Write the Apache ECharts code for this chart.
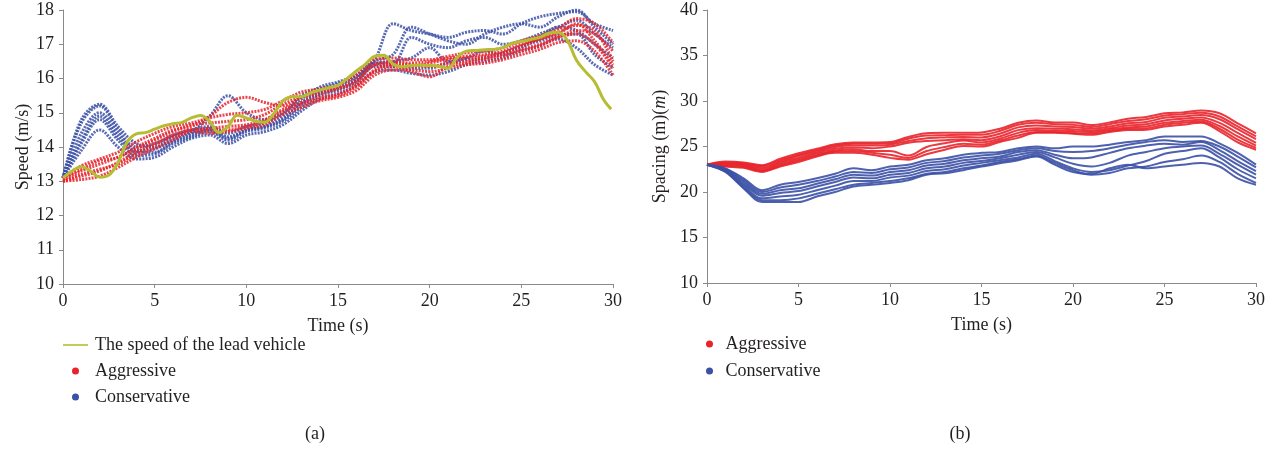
<!DOCTYPE html>
<html>
<head>
<meta charset="utf-8">
<script src="https://cdn.jsdelivr.net/npm/echarts@6/dist/echarts.min.js"></script>
<style>
html,body{margin:0;padding:0;background:#fff;}
#c{width:1280px;height:449px;}
</style>
</head>
<body>
<div id="c"></div>
<script>
// ---------- DATA ----------
const time = [0,1,2,3,4,5,6,7,8,9,10,11,12,13,14,15,16,17,18,19,20,21,22,23,24,25,26,27,28,29,30];
const xTicks = ['0','5','10','15','20','25','30'];

const leadTime = [0,0.5,1,1.5,2,2.5,3,3.5,4,4.5,5,5.5,6,6.5,7,7.5,8,8.5,9,9.5,10,10.5,11,11.5,12,12.5,13,13.5,14,14.5,15,15.5,16,16.5,17,17.5,18,18.5,19,19.5,20,20.5,21,21.5,22,22.5,23,23.5,24,24.5,25,25.5,26,26.5,27,27.5,28,28.5,29,29.5,29.9];
const leadSpeed = [13.10,13.30,13.42,13.30,13.12,13.18,13.55,14.15,14.38,14.42,14.52,14.62,14.68,14.72,14.85,14.92,14.75,14.42,14.60,14.92,14.85,14.75,14.72,14.98,15.35,15.47,15.47,15.58,15.66,15.73,15.80,16.00,16.22,16.42,16.65,16.68,16.42,16.34,16.38,16.39,16.38,16.36,16.30,16.62,16.80,16.82,16.84,16.85,16.90,17.03,17.08,17.14,17.20,17.32,17.35,17.12,16.54,16.20,15.90,15.37,15.10];

// Aggressive speed runs (m/s)
const aggSpeed1 = [13.1,13.45,13.65,13.85,14.15,14.4,14.6,14.7,14.85,14.95,15.0,15.1,15.35,15.6,15.7,15.8,16.1,16.55,16.6,16.55,16.55,16.65,16.75,16.8,16.9,17.1,17.25,17.45,17.75,17.6,17.05];
const aggSpeed2 = [13.0,13.2,13.35,13.5,13.8,14.05,14.35,14.5,14.55,14.6,14.65,14.8,15.1,15.3,15.45,15.55,15.8,16.25,16.45,16.4,16.35,16.45,16.5,16.6,16.7,16.85,17.0,17.2,17.4,17.3,16.8];
const aggSpeed3 = [13.0,13.05,13.15,13.4,13.7,13.95,14.2,14.45,14.4,14.45,14.55,14.65,14.95,15.15,15.35,15.45,15.65,16.1,16.25,16.25,16.2,16.3,16.4,16.45,16.55,16.7,16.85,17.05,17.1,16.8,16.1];
const aggSpeed4 = [13.1,13.35,13.6,13.7,14.0,14.25,14.5,14.6,14.9,15.3,15.45,15.3,15.2,15.45,15.65,15.7,15.95,16.4,16.5,16.45,16.5,16.6,16.65,16.7,16.8,17.0,17.15,17.35,17.55,17.4,16.5];
const aggSpeed5 = [13.05,13.3,13.5,13.7,13.95,14.2,14.45,14.65,14.7,14.75,14.8,14.95,15.25,15.45,15.55,15.7,15.9,16.4,16.4,16.35,16.45,16.55,16.6,16.65,16.75,16.95,17.15,17.3,17.6,17.1,16.4];
const aggSpeed6 = [13.0,13.15,13.3,13.55,13.85,14.1,14.3,14.5,14.5,14.5,14.6,14.75,15.05,15.25,15.4,15.5,15.75,16.2,16.35,16.2,16.05,16.35,16.45,16.55,16.65,16.8,16.95,17.2,17.3,17.0,16.3];

// Conservative speed runs (m/s)
const conSpeed1 = [13.1,14.7,15.2,14.5,14.0,14.1,14.35,14.5,14.6,14.4,14.6,14.7,14.95,15.5,15.7,15.85,16.05,16.55,17.6,17.4,17.3,17.2,17.35,17.4,17.3,17.6,17.8,17.9,17.95,17.6,17.4];
const conSpeed2 = [13.1,14.4,15.0,14.4,13.9,13.95,14.2,14.4,14.55,14.3,14.5,14.6,14.85,15.3,15.6,15.75,16.0,16.45,16.45,17.2,17.0,16.9,17.1,17.2,17.0,17.1,17.3,17.5,17.7,17.3,16.9];
const conSpeed3 = [13.1,14.1,14.8,14.2,13.75,13.8,14.1,14.3,14.45,14.2,14.45,14.55,14.75,15.15,15.5,15.65,15.9,16.35,16.35,16.3,16.3,16.45,16.55,16.6,16.75,16.95,17.1,17.25,17.3,16.7,16.3];
const conSpeed4 = [13.1,13.9,14.5,14.0,13.65,13.7,14.0,14.25,14.35,14.1,14.35,14.45,14.65,15.05,15.4,15.55,15.8,16.2,16.25,16.15,16.1,16.2,16.4,16.5,16.6,16.8,16.95,17.15,16.9,16.4,16.1];
const conSpeed5 = [13.1,14.8,15.25,14.6,14.1,14.0,14.3,14.45,14.9,15.5,15.0,14.8,15.0,15.4,15.75,15.9,16.1,16.5,16.7,17.5,17.3,17.1,17.0,17.3,17.5,17.6,17.5,17.8,18.0,17.5,17.0];
const conSpeed6 = [13.1,14.2,14.9,14.3,13.85,13.85,14.15,14.35,14.5,14.25,14.5,14.6,14.8,15.25,15.55,15.7,15.95,16.4,16.5,16.6,16.9,16.5,16.6,16.8,16.7,16.9,17.2,17.5,17.4,17.0,16.6];

// Aggressive spacing runs (m)
const aggGap1 = [23.0,23.35,23.25,22.95,23.65,24.25,24.75,25.25,25.45,25.45,25.5,26.05,26.45,26.5,26.5,26.55,26.95,27.6,27.85,27.65,27.65,27.35,27.65,28.05,28.25,28.65,28.75,28.95,28.65,27.55,26.45];
const aggGap2 = [23.0,23.25,23.15,22.85,23.5,24.1,24.6,25.1,25.3,25.3,25.35,25.85,26.2,26.25,26.3,26.3,26.7,27.4,27.6,27.45,27.4,27.15,27.45,27.8,28.0,28.4,28.55,28.7,28.3,27.2,26.1];
const aggGap3 = [23.0,23.15,23.05,22.7,23.35,23.95,24.45,24.95,25.1,25.1,25.2,25.6,25.9,26.0,26.05,26.0,26.4,27.1,27.3,27.2,27.15,26.95,27.2,27.55,27.7,28.15,28.3,28.45,28.0,26.9,25.8];
const aggGap4 = [23.0,23.05,22.95,22.55,23.2,23.75,24.3,24.75,24.9,24.8,25.0,25.4,25.6,25.7,25.8,25.7,26.1,26.8,27.0,26.95,26.9,26.75,27.0,27.3,27.45,27.85,28.05,28.2,27.6,26.5,25.4];
const aggGap5 = [23.0,22.95,22.85,22.4,23.05,23.6,24.15,24.55,24.7,24.5,24.5,24.0,24.95,25.35,25.65,25.45,25.85,26.5,26.8,26.75,26.7,26.6,26.85,27.1,27.2,27.6,27.8,27.95,27.25,26.1,25.1];
const aggGap6 = [23.0,22.85,22.75,22.3,22.9,23.45,24.0,24.45,24.5,24.3,24.1,23.75,24.5,24.95,25.3,25.2,25.65,26.2,26.6,26.6,26.5,26.45,26.7,26.95,27.0,27.4,27.6,27.75,26.95,25.75,24.85];
const aggGap7 = [23.0,22.8,22.65,22.2,22.8,23.3,23.9,24.3,24.3,24.1,23.75,23.55,24.15,24.65,25.05,25.0,25.5,25.95,26.5,26.5,26.4,26.3,26.6,26.8,26.85,27.2,27.4,27.6,26.7,25.45,24.65];

// Conservative spacing runs (m)
const conGap1 = [23.0,22.6,21.5,20.2,20.8,21.1,21.5,22.0,22.6,22.4,22.8,23.0,23.5,23.7,24.1,24.3,24.4,24.8,25.0,24.8,25.0,25.0,25.2,25.5,25.7,26.1,26.1,26.1,25.35,24.3,23.0];
const conGap2 = [23.0,22.55,21.3,20.0,20.5,20.8,21.2,21.7,22.2,22.1,22.5,22.7,23.2,23.4,23.8,24.0,24.2,24.6,24.8,24.5,24.4,24.5,24.8,25.2,25.5,25.7,25.5,25.6,25.0,23.9,22.7];
const conGap3 = [23.0,22.45,21.1,19.8,20.2,20.4,20.9,21.4,21.9,21.8,22.2,22.4,22.9,23.1,23.5,23.7,23.9,24.4,24.6,24.1,23.7,23.8,24.3,24.8,25.1,25.3,25.2,25.5,24.6,23.4,22.3];
const conGap4 = [23.0,22.4,20.9,19.6,19.9,20.1,20.6,21.1,21.6,21.5,21.9,22.1,22.6,22.8,23.2,23.4,23.7,24.1,24.4,23.8,23.1,22.8,23.2,24.0,24.4,24.8,25.0,25.1,24.2,23.0,21.9];
const conGap5 = [23.0,22.3,20.7,19.3,19.5,19.7,20.2,20.7,21.2,21.2,21.6,21.8,22.3,22.5,22.9,23.2,23.5,23.8,24.2,23.4,22.6,22.2,22.4,22.9,23.4,24.2,24.5,24.8,23.8,22.5,21.5];
const conGap6 = [23.0,22.25,20.5,19.1,19.1,19.3,19.8,20.3,20.8,21.0,21.2,21.5,22.0,22.2,22.6,22.9,23.3,23.6,24.0,23.2,22.4,21.9,22.1,22.6,22.8,23.3,23.6,24.0,23.3,22.0,21.0];
const conGap7 = [23.0,22.2,20.4,18.9,18.9,18.9,19.5,20.0,20.6,20.8,21.0,21.3,21.9,22.05,22.4,22.8,23.15,23.5,23.9,23.0,22.2,22.0,22.6,23.0,22.6,22.8,23.0,23.2,22.8,21.5,20.8];

// ---------- STYLE ----------
const RED = '#e8232b';
const BLUE = '#3b50a6';
const LEAD = '#b6bd33';
const TXT = '#231f20';
const AXC = '#8a8a8a';
const FONT = '"Liberation Serif", "DejaVu Serif", serif';
const FS = 18;

function pairs(xs, ys){ return ys.map((v,i)=>[xs[i], v]); }

function speedRun(name, ys, color){
  return { type:'line', name, xAxisIndex:0, yAxisIndex:0, data:pairs(time, ys),
    smooth:0.35, symbol:'none', itemStyle:{color},
    lineStyle:{color, width:3, type:[2,1.2], opacity:0.85}, silent:true, z:2 };
}
function gapRun(name, ys, color){
  return { type:'line', name, xAxisIndex:1, yAxisIndex:1, data:pairs(time, ys),
    smooth:0.35, symbol:'none', itemStyle:{color},
    lineStyle:{color, width:2, opacity:0.9}, silent:true, z:2 };
}

const series = [];
[conSpeed1,conSpeed2,conSpeed3,conSpeed4,conSpeed5,conSpeed6].forEach(a=>series.push(speedRun('Conservative', a, BLUE)));
[aggSpeed1,aggSpeed2,aggSpeed3,aggSpeed4,aggSpeed5,aggSpeed6].forEach(a=>series.push(speedRun('Aggressive', a, RED)));
series.push({ type:'line', name:'The speed of the lead vehicle', xAxisIndex:0, yAxisIndex:0,
  data:pairs(leadTime, leadSpeed), smooth:0.4, symbol:'none', itemStyle:{color:LEAD},
  lineStyle:{color:LEAD, width:3}, z:5, silent:true });
[aggGap1,aggGap2,aggGap3,aggGap4,aggGap5,aggGap6,aggGap7].forEach(a=>series.push(gapRun('Aggressive', a, RED)));
[conGap1,conGap2,conGap3,conGap4,conGap5,conGap6,conGap7].forEach(a=>series.push(gapRun('Conservative', a, BLUE)));

function xAx(gridIndex){
  return { type:'value', gridIndex, min:0, max:30, interval:5,
    name:'Time (s)', nameLocation:'middle', nameGap:33,
    nameTextStyle:{fontFamily:FONT, fontSize:FS, color:TXT},
    axisLine:{lineStyle:{color:AXC, width:1}},
    axisTick:{show:true, length:4, lineStyle:{color:AXC}},
    axisLabel:{fontFamily:FONT, fontSize:FS, color:TXT, margin:8,
      formatter:(v)=> xTicks[Math.round(v/5)] },
    splitLine:{show:false} };
}
function yAx(gridIndex, min, max, interval, name, gap, rich){
  return { type:'value', gridIndex, min, max, interval,
    name, nameLocation:'middle', nameGap:gap,
    nameTextStyle:{fontFamily:FONT, fontSize:FS, color:TXT, rich},
    axisLine:{show:true, lineStyle:{color:AXC, width:1}},
    axisTick:{show:true, length:4, lineStyle:{color:AXC}},
    axisLabel:{fontFamily:FONT, fontSize:FS, color:TXT, margin:9},
    splitLine:{show:false} };
}

const option = {
  animation:false,
  backgroundColor:'#fff',
  grid:[
    {left:63, top:10, width:550, height:274},
    {left:707, top:10, width:549, height:273}
  ],
  xAxis:[xAx(0), xAx(1)],
  yAxis:[
    yAx(0, 10, 18, 1, 'Speed (m/s)', 31),
    yAx(1, 10, 40, 5, 'Spacing (m)({i|m})', 38, {i:{fontFamily:FONT, fontSize:FS, color:TXT, fontStyle:'italic'}})
  ],
  legend:[
    { orient:'vertical', left:63, top:336, padding:0, itemGap:8, itemWidth:25, itemHeight:7,
      selectedMode:false,
      textStyle:{fontFamily:FONT, fontSize:FS, color:TXT, padding:[0,0,0,2]},
      data:[
        {name:'The speed of the lead vehicle', icon:'path://M0,0L25,0L25,1.6L0,1.6Z'},
        {name:'Aggressive', icon:'circle'},
        {name:'Conservative', icon:'circle'}
      ] },
    { orient:'vertical', left:706, top:335, padding:0, itemGap:9, itemWidth:22, itemHeight:7,
      selectedMode:false,
      textStyle:{fontFamily:FONT, fontSize:FS, color:TXT},
      data:[
        {name:'Aggressive', icon:'circle'},
        {name:'Conservative', icon:'circle'}
      ] }
  ],
  graphic:[
    {type:'text', x:315, y:434, style:{text:'(a)', fontFamily:FONT, fontSize:FS, fill:TXT, align:'center', verticalAlign:'middle'}},
    {type:'text', x:960, y:434, style:{text:'(b)', fontFamily:FONT, fontSize:FS, fill:TXT, align:'center', verticalAlign:'middle'}}
  ],
  series
};

const chart = echarts.init(document.getElementById('c'), null, {renderer:'canvas'});
chart.setOption(option);
</script>
</body>
</html>
